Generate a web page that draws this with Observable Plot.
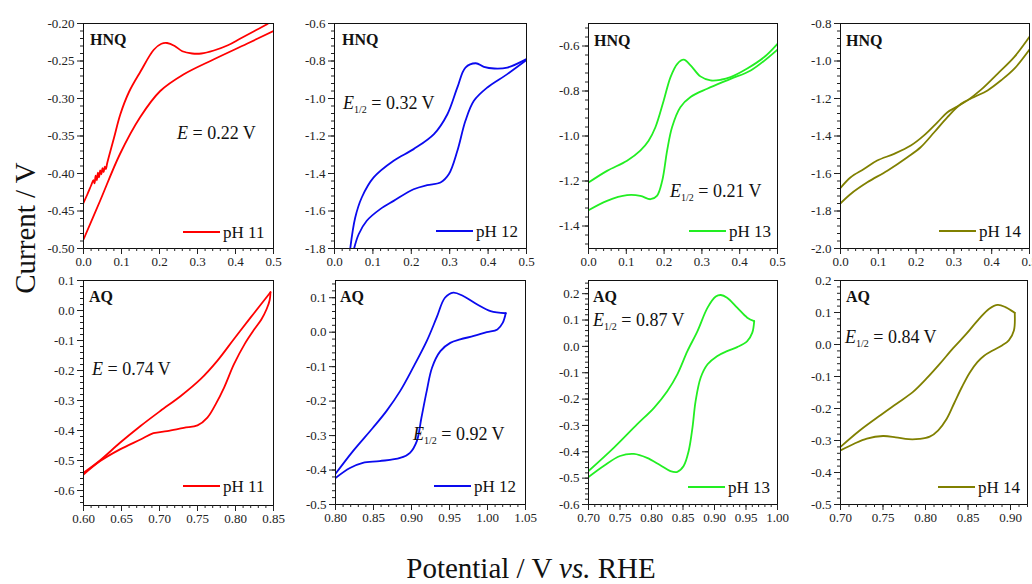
<!DOCTYPE html>
<html><head><meta charset="utf-8">
<script src="https://cdn.jsdelivr.net/npm/d3@7"></script>
<script src="https://cdn.jsdelivr.net/npm/@observablehq/plot@0.6"></script>
<style>
html,body{margin:0;padding:0;background:#fff;}
#chart{position:relative;width:1032px;height:584px;overflow:hidden;font-family:"Liberation Serif","Times New Roman",serif;}
#chart svg{position:absolute;overflow:visible;max-width:none !important;}
#chart svg text{font-family:"Liberation Serif","Times New Roman",serif !important;}
#chart svg.panel text{font-size:13px !important;fill:#222;}
</style></head><body><div id="chart"></div>
<script>
// ---------- data: [potential, current] for forward (upper) and reverse (lower) branches ----------
const hnq11Up = [[0,-0.439],[0.01,-0.428],[0.02,-0.416],[0.026,-0.409],[0.029,-0.413],[0.032,-0.403],[0.035,-0.409],[0.038,-0.399],[0.041,-0.405],[0.044,-0.396],[0.047,-0.401],[0.050,-0.393],[0.053,-0.398],[0.056,-0.391],[0.059,-0.394],[0.062,-0.387],[0.08,-0.353],[0.097,-0.321],[0.12,-0.291],[0.15,-0.264],[0.185,-0.235],[0.205,-0.227],[0.22,-0.226],[0.24,-0.230],[0.26,-0.237],[0.286,-0.240],[0.31,-0.240],[0.343,-0.236],[0.38,-0.229],[0.413,-0.220],[0.45,-0.210],[0.483,-0.201],[0.5,-0.195]];
const hnq11Down = [[0,-0.488],[0.044,-0.436],[0.096,-0.374],[0.149,-0.325],[0.202,-0.290],[0.263,-0.268],[0.342,-0.248],[0.43,-0.227],[0.5,-0.210]];

const hnq12Up = [[0.041,-1.80],[0.054,-1.635],[0.071,-1.528],[0.102,-1.421],[0.154,-1.332],[0.206,-1.270],[0.259,-1.190],[0.294,-1.084],[0.32,-0.941],[0.341,-0.835],[0.368,-0.812],[0.389,-0.831],[0.416,-0.840],[0.45,-0.835],[0.5,-0.790]];
const hnq12Down = [[0.051,-1.80],[0.063,-1.724],[0.084,-1.652],[0.119,-1.590],[0.154,-1.546],[0.206,-1.484],[0.241,-1.462],[0.276,-1.448],[0.298,-1.403],[0.32,-1.279],[0.341,-1.119],[0.363,-1.012],[0.398,-0.941],[0.45,-0.870],[0.5,-0.795]];

const hnq13Up = [[0,-1.207],[0.049,-1.155],[0.102,-1.110],[0.137,-1.065],[0.159,-1.021],[0.177,-0.961],[0.199,-0.842],[0.217,-0.738],[0.235,-0.679],[0.252,-0.661],[0.27,-0.686],[0.296,-0.735],[0.323,-0.753],[0.35,-0.750],[0.376,-0.738],[0.42,-0.700],[0.465,-0.649],[0.5,-0.590]];
const hnq13Down = [[0,-1.330],[0.049,-1.288],[0.102,-1.263],[0.137,-1.266],[0.164,-1.281],[0.181,-1.266],[0.195,-1.199],[0.208,-1.065],[0.221,-0.961],[0.243,-0.872],[0.27,-0.827],[0.314,-0.790],[0.376,-0.746],[0.429,-0.709],[0.5,-0.616]];

const hnq14Up = [[0,-1.677],[0.027,-1.620],[0.062,-1.576],[0.097,-1.531],[0.142,-1.495],[0.186,-1.451],[0.221,-1.397],[0.257,-1.326],[0.283,-1.273],[0.31,-1.242],[0.336,-1.210],[0.372,-1.153],[0.416,-1.067],[0.46,-0.978],[0.5,-0.871]];
const hnq14Down = [[0,-1.759],[0.027,-1.709],[0.071,-1.647],[0.124,-1.585],[0.177,-1.513],[0.212,-1.460],[0.248,-1.380],[0.283,-1.299],[0.319,-1.228],[0.354,-1.192],[0.389,-1.157],[0.425,-1.103],[0.46,-1.041],[0.5,-0.939]];

const aq11Up = [[0.6,-0.541],[0.622,-0.499],[0.648,-0.441],[0.675,-0.385],[0.701,-0.335],[0.728,-0.285],[0.754,-0.229],[0.776,-0.168],[0.798,-0.095],[0.82,-0.023],[0.838,0.035],[0.846,0.061]];
const aq11Down = [[0.846,0.061],[0.845,0.035],[0.841,0.005],[0.834,-0.030],[0.825,-0.062],[0.812,-0.112],[0.798,-0.179],[0.785,-0.257],[0.774,-0.312],[0.763,-0.357],[0.75,-0.383],[0.732,-0.391],[0.71,-0.402],[0.692,-0.409],[0.675,-0.430],[0.648,-0.463],[0.622,-0.502],[0.6,-0.547]];

const aq12Up = [[0.8,-0.411],[0.823,-0.345],[0.849,-0.278],[0.867,-0.229],[0.885,-0.171],[0.902,-0.103],[0.92,-0.026],[0.933,0.042],[0.944,0.100],[0.955,0.115],[0.968,0.105],[0.986,0.081],[1.004,0.061],[1.024,0.055]];
const aq12Down = [[1.024,0.055],[1.02,0.027],[1.013,0.008],[0.999,0.0],[0.982,-0.011],[0.964,-0.021],[0.951,-0.031],[0.938,-0.055],[0.927,-0.103],[0.92,-0.171],[0.913,-0.249],[0.907,-0.316],[0.898,-0.350],[0.885,-0.365],[0.858,-0.374],[0.836,-0.379],[0.819,-0.394],[0.8,-0.423]];

const aq13Up = [[0.7,-0.473],[0.74,-0.385],[0.777,-0.296],[0.804,-0.233],[0.825,-0.170],[0.841,-0.106],[0.857,-0.018],[0.873,0.058],[0.889,0.147],[0.902,0.189],[0.91,0.195],[0.92,0.185],[0.936,0.147],[0.952,0.109],[0.963,0.096]];
const aq13Down = [[0.963,0.096],[0.96,0.052],[0.952,0.020],[0.936,-0.003],[0.92,-0.018],[0.904,-0.037],[0.889,-0.068],[0.878,-0.119],[0.87,-0.208],[0.865,-0.309],[0.859,-0.397],[0.851,-0.454],[0.841,-0.476],[0.83,-0.473],[0.814,-0.451],[0.793,-0.423],[0.772,-0.408],[0.75,-0.416],[0.724,-0.454],[0.7,-0.496]];

const aq14Up = [[0.7,-0.320],[0.723,-0.268],[0.747,-0.221],[0.766,-0.185],[0.785,-0.149],[0.801,-0.107],[0.817,-0.060],[0.832,-0.013],[0.848,0.033],[0.863,0.080],[0.875,0.112],[0.885,0.124],[0.894,0.117],[0.905,0.099]];
const aq14Down = [[0.905,0.099],[0.904,0.044],[0.898,0.013],[0.89,-0.003],[0.879,-0.019],[0.869,-0.035],[0.861,-0.055],[0.852,-0.088],[0.843,-0.132],[0.834,-0.182],[0.825,-0.232],[0.815,-0.268],[0.805,-0.288],[0.793,-0.295],[0.78,-0.296],[0.765,-0.290],[0.75,-0.286],[0.731,-0.294],[0.716,-0.310],[0.7,-0.331]];

// ---------- tick labels ----------
const xTicksHNQ = [0, 0.1, 0.2, 0.3, 0.4, 0.5];
const yTicksHNQ11 = [-0.20, -0.25, -0.30, -0.35, -0.40, -0.45, -0.50];
const yTicksHNQ12 = [-0.6, -0.8, -1.0, -1.2, -1.4, -1.6, -1.8];
const yTicksHNQ13 = [-0.6, -0.8, -1.0, -1.2, -1.4];
const yTicksHNQ14 = [-0.8, -1.0, -1.2, -1.4, -1.6, -1.8, -2.0];
const xTicksAQ11 = [0.60, 0.65, 0.70, 0.75, 0.80, 0.85];
const yTicksAQ11 = [0.1, 0.0, -0.1, -0.2, -0.3, -0.4, -0.5, -0.6];
const xTicksAQ12 = [0.80, 0.85, 0.90, 0.95, 1.00, 1.05];
const yTicksAQ12 = [0.1, 0.0, -0.1, -0.2, -0.3, -0.4, -0.5];
const xTicksAQ13 = [0.70, 0.75, 0.80, 0.85, 0.90, 0.95, 1.00];
const yTicksAQ13 = [0.2, 0.1, 0.0, -0.1, -0.2, -0.3, -0.4, -0.5, -0.6];
const xTicksAQ14 = [0.70, 0.75, 0.80, 0.85, 0.90];
const yTicksAQ14 = [0.2, 0.1, 0.0, -0.1, -0.2, -0.3, -0.4, -0.5];

const species = ["HNQ","HNQ","HNQ","HNQ","AQ","AQ","AQ","AQ"];
const phLabels = ["pH 11","pH 12","pH 13","pH 14","pH 11","pH 12","pH 13","pH 14"];
const potentials = ["0.22","0.32","0.21","","0.74","0.92","0.87","0.84"];
const isHalfWave = [false,true,true,false,false,true,true,true];

const RED = "#ff0000", BLUE = "#0a0aee", GREEN = "#22ee22", OLIVE = "#808000";

const panels = [
  {up:hnq11Up, down:hnq11Down, color:RED,   xd:[0,0.5], yd:[-0.5,-0.2], xt:xTicksHNQ, yt:yTicksHNQ11, xf:1, yf:2, xm:0.02, ym:0.01, box:[83,23,190,225]},
  {up:hnq12Up, down:hnq12Down, color:BLUE,  xd:[0,0.5], yd:[-1.8,-0.6], xt:xTicksHNQ, yt:yTicksHNQ12, xf:1, yf:1, xm:0.02, ym:0.04, box:[334,23,192,225]},
  {up:hnq13Up, down:hnq13Down, color:GREEN, xd:[0,0.5], yd:[-1.5,-0.5], xt:xTicksHNQ, yt:yTicksHNQ13, xf:1, yf:1, xm:0.02, ym:0.04, box:[588,23,189,225]},
  {up:hnq14Up, down:hnq14Down, color:OLIVE, xd:[0,0.5], yd:[-2.0,-0.8], xt:xTicksHNQ, yt:yTicksHNQ14, xf:1, yf:1, xm:0.02, ym:0.04, box:[840,23,189,225]},
  {up:aq11Up, down:aq11Down, color:RED,   xd:[0.6,0.85], yd:[-0.65,0.1], xt:xTicksAQ11, yt:yTicksAQ11, xf:2, yf:1, xm:0.01, ym:0.02, box:[83,280,190,225]},
  {up:aq12Up, down:aq12Down, color:BLUE,  xd:[0.8,1.05], yd:[-0.5,0.15], xt:xTicksAQ12, yt:yTicksAQ12, xf:2, yf:1, xm:0.01, ym:0.02, box:[335,280,190,224]},
  {up:aq13Up, down:aq13Down, color:GREEN, xd:[0.7,1.0],  yd:[-0.6,0.25], xt:xTicksAQ13, yt:yTicksAQ13, xf:2, yf:1, xm:0.01, ym:0.02, box:[588,280,189,224]},
  {up:aq14Up, down:aq14Down, color:OLIVE, xd:[0.7,0.92], yd:[-0.5,0.2],  xt:xTicksAQ14, yt:yTicksAQ14, xf:2, yf:1, xm:0.01, ym:0.02, box:[840,280,187,224]}
];

// annotation placements (page pixels): name label, E label, legend
const namePos = [[90,45],[342,45],[594,46],[846,46],[89,302],[340,302],[593,302],[846,302]];
const ePos = [[177,139],[343,109],[670,197],[null,null],[92,375],[413,440],[593,326],[845,343]];
const legPos = [[183,232],[436,231],[689,231],[939,231],[183,486],[434,486],[688,487],[938,487]];

function minorTicks(domain, step) {
  const lo = Math.min(...domain), hi = Math.max(...domain);
  return d3.range(Math.ceil(lo/step - 1e-6), Math.floor(hi/step + 1e-6) + 1).map(i => +(i*step).toFixed(4));
}

const FONT = '"Liberation Serif","Times New Roman",serif';
const chart = d3.select("#chart");
const mL = 48, mR = 14, mT = 8, mB = 26;

panels.forEach((p, i) => {
  const [bx, by, bw, bh] = p.box;
  const rows = [
    ...p.up.map(d => ({E: d[0], I: d[1], branch: "up"})),
    ...p.down.map(d => ({E: d[0], I: d[1], branch: "down"}))
  ];
  const svg = Plot.plot({
    width: bw + mL + mR,
    height: bh + mT + mB,
    marginLeft: mL, marginRight: mR, marginTop: mT, marginBottom: mB,
    className: "panel",
    style: {fontFamily: FONT, fontSize: "13px", background: "transparent", color: "#222", overflow: "visible"},
    x: {domain: p.xd, label: null},
    y: {domain: p.yd, label: null},
    marks: [
      Plot.line(rows, {x: "E", y: "I", z: "branch", stroke: p.color, strokeWidth: 1.8, curve: "catmull-rom", clip: true}),
      Plot.frame({stroke: "#111", strokeWidth: 1}),
      Plot.axisX({ticks: minorTicks(p.xd, p.xm), tickSize: 3, tickFormat: () => "", label: null, stroke: "#222"}),
      Plot.axisX({ticks: p.xt, tickSize: 6, tickPadding: 2, tickFormat: d => d.toFixed(p.xf), label: null, stroke: "#222", fontFamily: FONT, fontSize: 13}),
      Plot.axisY({ticks: minorTicks(p.yd, p.ym), tickSize: 3, tickFormat: () => "", label: null, stroke: "#222"}),
      Plot.axisY({ticks: p.yt, tickSize: 6, tickPadding: 3, tickFormat: d => d.toFixed(p.yf), label: null, stroke: "#222", fontFamily: FONT, fontSize: 13})
    ]
  });
  svg.classList.add("panel");
  svg.style.left = (bx - mL) + "px";
  svg.style.top = (by - mT) + "px";
  d3.select(svg).selectAll("text").attr("font-family", FONT).attr("font-size", 13)
    .style("font-family", FONT).style("font-size", "13px");
  chart.node().appendChild(svg);
});

// overlay: annotations and axis titles
const ov = chart.append("svg")
  .attr("width", 1032).attr("height", 584)
  .style("left", "0px").style("top", "0px")
  .style("font-family", FONT);

panels.forEach((p, i) => {
  ov.append("text").attr("x", namePos[i][0]).attr("y", namePos[i][1])
    .style("font-size", "16px").style("font-weight", "bold").attr("fill", "#111").text(species[i]);
  if (ePos[i][0] !== null) {
    const t = ov.append("text").attr("x", ePos[i][0]).attr("y", ePos[i][1])
      .style("font-size", "18px").attr("fill", "#111");
    t.append("tspan").style("font-style", "italic").text("E");
    if (isHalfWave[i]) {
      t.append("tspan").attr("dy", 4).style("font-size", "10px").text("1/2");
      t.append("tspan").attr("dy", -4).text(" = " + potentials[i] + " V");
    } else {
      t.append("tspan").text(" = " + potentials[i] + " V");
    }
  }
  const [lx, ly] = legPos[i];
  ov.append("line").attr("x1", lx).attr("x2", lx + 37).attr("y1", ly).attr("y2", ly)
    .attr("stroke", p.color).attr("stroke-width", 1.8);
  ov.append("text").attr("x", lx + 40).attr("y", ly + 6)
    .style("font-size", "17px").attr("fill", "#111").text(phLabels[i]);
});

ov.append("text").attr("transform", "translate(35,228) rotate(-90)")
  .attr("text-anchor", "middle").style("font-size", "29px").attr("fill", "#111")
  .text("Current / V");

const xt = ov.append("text").attr("x", 531).attr("y", 578)
  .attr("text-anchor", "middle").style("font-size", "29px").attr("fill", "#111");
xt.append("tspan").text("Potential / V ");
xt.append("tspan").style("font-style", "italic").text("vs.");
xt.append("tspan").text(" RHE");
</script></body></html>
